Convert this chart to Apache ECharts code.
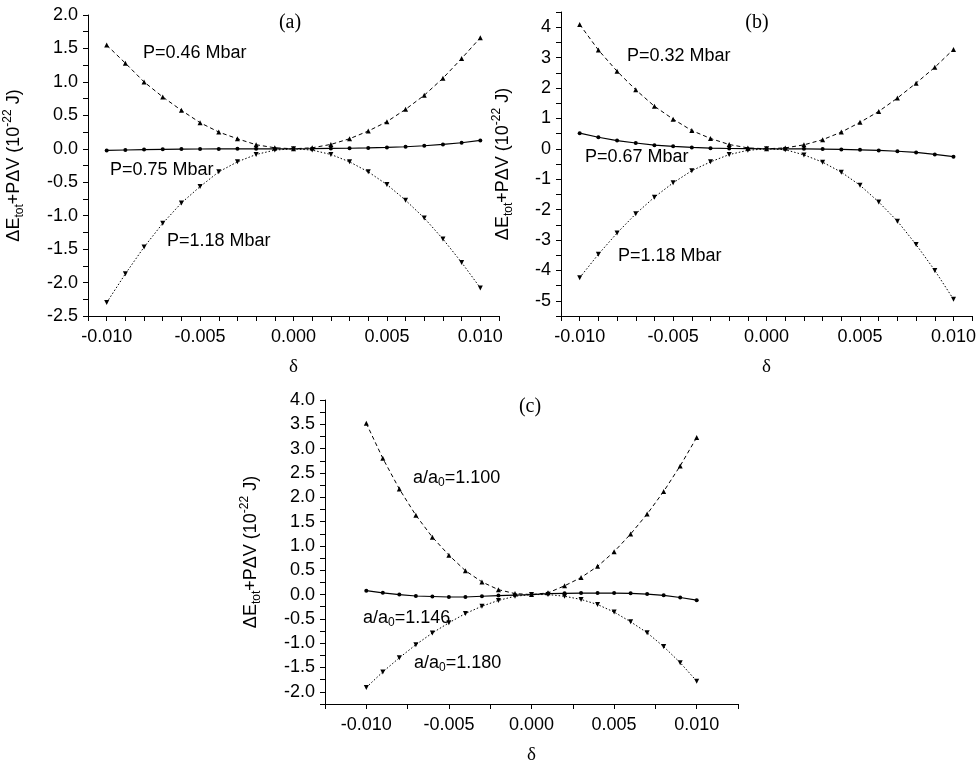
<!DOCTYPE html>
<html>
<head>
<meta charset="utf-8">
<script src="https://cdn.jsdelivr.net/npm/echarts@6/dist/echarts.min.js"></script>
<style>
  html, body { margin: 0; padding: 0; background: #fff; }
  #chart { width: 979px; height: 766px; }
</style>
</head>
<body>
<div id="chart"></div>
<script>
// strain delta (x) shared by all three panels
var delta = [-0.010, -0.009, -0.008, -0.007, -0.006, -0.005, -0.004, -0.003, -0.002, -0.001,
             0.000, 0.001, 0.002, 0.003, 0.004, 0.005, 0.006, 0.007, 0.008, 0.009, 0.010];

// panel (a)
var a_p046 = [1.55, 1.28, 1.00, 0.775, 0.575, 0.39, 0.25, 0.15, 0.06, 0.015, 0,
              0.015, 0.065, 0.15, 0.265, 0.405, 0.59, 0.80, 1.055, 1.35, 1.66];
var a_p075 = [-0.025, -0.018, -0.012, -0.008, -0.005, -0.003, -0.002, -0.001, 0, 0, 0,
              0.002, 0.005, 0.008, 0.013, 0.02, 0.03, 0.045, 0.065, 0.09, 0.125];
var a_p118 = [-2.30, -1.87, -1.47, -1.115, -0.81, -0.565, -0.345, -0.195, -0.085, -0.02, 0,
              -0.02, -0.085, -0.195, -0.345, -0.535, -0.77, -1.035, -1.35, -1.70, -2.08];

// panel (b)
var b_p032 = [4.09, 3.25, 2.55, 1.94, 1.40, 0.975, 0.60, 0.34, 0.14, 0.03, 0,
              0.03, 0.13, 0.30, 0.55, 0.87, 1.23, 1.67, 2.16, 2.68, 3.27];
var b_p067 = [0.515, 0.38, 0.27, 0.19, 0.12, 0.08, 0.045, 0.02, 0.01, 0.005, 0,
              0, 0, -0.01, -0.02, -0.035, -0.055, -0.08, -0.12, -0.185, -0.26];
var b_p118 = [-4.24, -3.47, -2.77, -2.14, -1.59, -1.12, -0.72, -0.43, -0.19, -0.05, 0,
              -0.03, -0.2, -0.44, -0.77, -1.2, -1.75, -2.38, -3.15, -4.0, -4.95];

// panel (c)
var c_a1100 = [3.52, 2.80, 2.17, 1.63, 1.18, 0.81, 0.49, 0.26, 0.10, 0.02, 0,
               0.035, 0.18, 0.35, 0.58, 0.88, 1.245, 1.655, 2.12, 2.645, 3.23];
var c_a1146 = [0.08, 0.035, 0.0, -0.03, -0.04, -0.05, -0.05, -0.035, -0.02, -0.01, 0,
               0.02, 0.025, 0.03, 0.03, 0.03, 0.025, 0.01, -0.015, -0.06, -0.115];
var c_a1180 = [-1.91, -1.59, -1.30, -1.03, -0.79, -0.58, -0.39, -0.24, -0.12, -0.035, 0,
               0, -0.035, -0.10, -0.205, -0.36, -0.56, -0.785, -1.07, -1.40, -1.78];

var SANS = '"Liberation Sans", Arial, sans-serif';
var SERIF = '"Liberation Serif", "Times New Roman", serif';

function pts(arr) {
    return delta.map(function (d, i) { return [d, arr[i]]; });
}

function xLabel(v) {
    var k = Math.round(v / 0.005);
    if (Math.abs(k * 0.005 - v) > 1e-7) return '';
    var r = k * 0.005;
    if (Math.abs(r) < 1e-9) r = 0;
    return r.toFixed(3);
}
function yLabelHalf(v) {
    var k = Math.round(v / 0.5);
    if (Math.abs(k * 0.5 - v) > 1e-7) return '';
    var r = k * 0.5;
    if (Math.abs(r) < 1e-9) r = 0;
    return r.toFixed(1);
}
function yLabelInt(v) {
    var k = Math.round(v);
    if (Math.abs(k - v) > 1e-7) return '';
    return String(k === 0 ? 0 : k);
}

var yTitle = '{n|ΔE}{sub|tot}{n|+PΔV (10}{sup|-22}{n| J)}';
var yTitleRich = {
    n: { fontFamily: SANS, fontSize: 18, color: '#000', lineHeight: 24, verticalAlign: 'middle' },
    sub: { fontFamily: SANS, fontSize: 12, color: '#000', lineHeight: 24, verticalAlign: 'bottom' },
    sup: { fontFamily: SANS, fontSize: 12, color: '#000', lineHeight: 24, verticalAlign: 'top' }
};

function xAxisCfg(idx, min, max, interval) {
    return {
        type: 'value', gridIndex: idx, min: min, max: max, interval: interval,
        name: 'δ', nameLocation: 'middle', nameGap: 42,
        nameTextStyle: { fontFamily: SERIF, fontSize: 19, color: '#000' },
        axisLine: { show: true, onZero: false, lineStyle: { color: '#000', width: 1 } },
        axisTick: { show: true, length: 5, lineStyle: { color: '#000' } },
        axisLabel: { formatter: xLabel, margin: 12, fontFamily: SANS, fontSize: 18, color: '#000' },
        splitLine: { show: false }
    };
}
function yAxisCfg(idx, min, max, interval, fmt, gap) {
    return {
        type: 'value', gridIndex: idx, min: min, max: max, interval: interval,
        name: yTitle, nameLocation: 'middle', nameRotate: 90, nameGap: gap,
        nameTextStyle: { rich: yTitleRich },
        axisLine: { show: true, onZero: false, lineStyle: { color: '#000', width: 1 } },
        axisTick: { show: true, length: 5, lineStyle: { color: '#000' } },
        axisLabel: { formatter: fmt, margin: 10, fontFamily: SANS, fontSize: 18, color: '#000' },
        splitLine: { show: false }
    };
}

function upper(idx, arr) {
    return {
        type: 'line', xAxisIndex: idx, yAxisIndex: idx, data: pts(arr),
        symbol: 'triangle', symbolSize: 5, itemStyle: { color: '#000' },
        lineStyle: { color: '#000', width: 1, type: [4, 3] }, animation: false
    };
}
function middle(idx, arr) {
    return {
        type: 'line', xAxisIndex: idx, yAxisIndex: idx, data: pts(arr),
        symbol: 'circle', symbolSize: 4, itemStyle: { color: '#000' },
        lineStyle: { color: '#000', width: 1.2 }, animation: false
    };
}
function lower(idx, arr) {
    return {
        type: 'line', xAxisIndex: idx, yAxisIndex: idx, data: pts(arr),
        symbol: 'triangle', symbolRotate: 180, symbolSize: 5, itemStyle: { color: '#000' },
        lineStyle: { color: '#000', width: 1, type: [1.5, 2] }, animation: false
    };
}

function label(x, y, text) {
    return {
        type: 'text', x: x, y: y,
        style: { text: text, fontFamily: SANS, fontSize: 18, fill: '#000', textVerticalAlign: 'middle' }
    };
}
function panelTitle(x, y, text) {
    return {
        type: 'text', x: x, y: y,
        style: { text: text, fontFamily: SERIF, fontSize: 20, fill: '#000', textAlign: 'center', textVerticalAlign: 'middle' }
    };
}
function ratioTxt(x, y, val) {
    return {
        type: 'text', x: x, y: y,
        style: {
            text: '{n|a/a}{s|0}{n|=' + val + '}',
            textVerticalAlign: 'middle',
            rich: {
                n: { fontFamily: SANS, fontSize: 18, fill: '#000', lineHeight: 22, verticalAlign: 'middle' },
                s: { fontFamily: SANS, fontSize: 12, fill: '#000', lineHeight: 22, verticalAlign: 'bottom' }
            }
        }
    };
}

var option = {
    backgroundColor: '#fff',
    animation: false,
    grid: [
        { left: 88, top: 15, width: 411, height: 301 },
        { left: 561, top: 12, width: 412, height: 304 },
        { left: 325, top: 400, width: 413, height: 305 }
    ],
    xAxis: [
        xAxisCfg(0, -0.011, 0.011, 0.001),
        xAxisCfg(1, -0.011, 0.011, 0.001),
        xAxisCfg(2, -0.0125, 0.0125, 0.0025)
    ],
    yAxis: [
        yAxisCfg(0, -2.5, 2.0, 0.25, yLabelHalf, 62),
        yAxisCfg(1, -5.5, 4.5, 0.5, yLabelInt, 46),
        yAxisCfg(2, -2.25, 4.0, 0.25, yLabelHalf, 62)
    ],
    series: [
        upper(0, a_p046), middle(0, a_p075), lower(0, a_p118),
        upper(1, b_p032), middle(1, b_p067), lower(1, b_p118),
        upper(2, c_a1100), middle(2, c_a1146), lower(2, c_a1180)
    ],
    graphic: [
        panelTitle(290, 23, '(a)'),
        panelTitle(757, 23, '(b)'),
        panelTitle(530, 407, '(c)'),
        label(143, 53, 'P=0.46 Mbar'),
        label(110, 170, 'P=0.75 Mbar'),
        label(167, 241, 'P=1.18 Mbar'),
        label(627, 56, 'P=0.32 Mbar'),
        label(585, 157, 'P=0.67 Mbar'),
        label(618, 256, 'P=1.18 Mbar'),
        ratioTxt(413, 478, '1.100'),
        ratioTxt(363, 618, '1.146'),
        ratioTxt(414, 663, '1.180')
    ]
};

var chart = echarts.init(document.getElementById('chart'));
chart.setOption(option);
</script>
</body>
</html>
